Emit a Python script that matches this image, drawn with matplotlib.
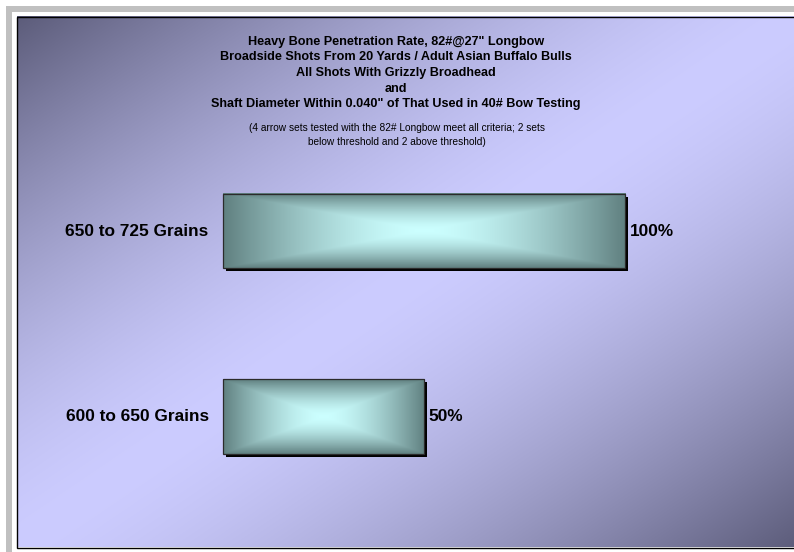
import numpy as np
import matplotlib
matplotlib.use("Agg")
import matplotlib.pyplot as plt
from matplotlib.patches import Rectangle
import matplotlib.patheffects as pe

plt.rcParams['font.family'] = ['Liberation Sans', 'DejaVu Sans']

# ---- data ----
categories = ['600 to 650 Grains', '650 to 725 Grains']
rates = [50, 100]
value_labels = ['50%', '100%']
title_lines = [
    'Heavy Bone Penetration Rate, 82#@27" Longbow',
    'Broadside Shots From 20 Yards / Adult Asian Buffalo Bulls',
    'All Shots With Grizzly Broadhead',
    'and',
    'Shaft Diameter Within 0.040" of That Used in 40# Bow Testing',
]
note_lines = [
    '(4 arrow sets tested with the 82# Longbow meet all criteria; 2 sets',
    'below threshold and 2 above threshold)',
]

W, H = 794, 552
fig = plt.figure(figsize=(W / 100, H / 100), dpi=100)
fig.patch.set_facecolor('white')

# ---- page background, frame and diagonal gradient (pixel coordinates) ----
bg = fig.add_axes([0, 0, 1, 1], zorder=0)
bg.set_xlim(0, W)
bg.set_ylim(H, 0)
bg.axis('off')

bg.add_patch(Rectangle((6, 6), 900, 700, facecolor='#c0c0c0', edgecolor='none'))
bg.add_patch(Rectangle((11.5, 11.5), 900, 700, facecolor='white', edgecolor='none'))

cx0, cx1, cy0, cy1 = 16.5, 798.0, 16.5, 547.5
nx, ny = 400, 280
gx = np.linspace(0, 1, nx)[None, :]
gy = np.linspace(0, 1, ny)[:, None]
t = (gx + gy) / 2.0
s = np.abs(2 * t - 1) ** 1.5
dark = np.array([92, 92, 122]) / 255.0
light = np.array([204, 204, 255]) / 255.0
grad = light[None, None, :] + (dark - light)[None, None, :] * s[..., None]
bg.imshow(grad, extent=(cx0, cx1, cy1, cy0), origin='upper', aspect='auto',
          interpolation='bilinear', zorder=1)
bg.add_patch(Rectangle((cx0, cy0), cx1 - cx0 + 20, cy1 - cy0, fill=False,
                       edgecolor='black', lw=1.0, zorder=2))
bg.set_xlim(0, W)
bg.set_ylim(H, 0)

# ---- titles ----
for i, line in enumerate(title_lines):
    fig.text(396 / W, 1 - (44.5 + i * 15.75) / H, line, ha='center',
             va='baseline', fontsize=9.1, fontweight='bold', color='black')
for i, line in enumerate(note_lines):
    fig.text(397 / W, 1 - (130.6 + i * 14.0) / H, line, ha='center',
             va='baseline', fontsize=7.3, color='black')

# ---- bar chart ----
ax = fig.add_axes([222.7 / W, (H - 509.25) / H, 402.3 / W, 371.0 / H], zorder=2)
ax.patch.set_visible(False)
ax.axis('off')

ypos = np.arange(len(categories))
bars = ax.barh(ypos, rates, height=0.4, color='#608080', edgecolor='none',
               zorder=2, clip_on=False,
               path_effects=[pe.SimplePatchShadow(offset=(2.2, -2.2),
                                                  shadow_rgbFace='black',
                                                  alpha=1.0),
                             pe.Normal()])

# box ("from centre") gradient fill for each bar
edge_c = np.array([96, 128, 128]) / 255.0
mid_c = np.array([204, 255, 255]) / 255.0
for r in bars:
    x, y, w, h = r.get_x(), r.get_y(), r.get_width(), r.get_height()
    u = np.linspace(-1, 1, 400)[None, :]
    v = np.linspace(-1, 1, 120)[:, None]
    d = np.maximum(np.abs(u), np.abs(v)) ** 1.6
    img = mid_c[None, None, :] + (edge_c - mid_c)[None, None, :] * d[..., None]
    ax.imshow(img, extent=(x, x + w, y, y + h), origin='lower', aspect='auto',
              interpolation='bilinear', zorder=3, clip_on=False)

ax.barh(ypos, rates, height=0.4, fill=False, edgecolor='#2b2b2b', lw=0.9,
        zorder=4, clip_on=False)

for i, (cat, val, lab) in enumerate(zip(categories, rates, value_labels)):
    ax.annotate(cat, xy=(0, ypos[i]), xytext=(-10.1, 0),
                textcoords='offset points', ha='right', va='center',
                fontsize=12.4, fontweight='bold', color='black')
    ax.annotate(lab, xy=(val, ypos[i]), xytext=(3.6, 0),
                textcoords='offset points', ha='left', va='center',
                fontsize=12.4, fontweight='bold', color='black')

ax.set_xlim(0, 100)
ax.set_ylim(-0.5, 1.5)

fig.savefig('out.png', dpi=100)
